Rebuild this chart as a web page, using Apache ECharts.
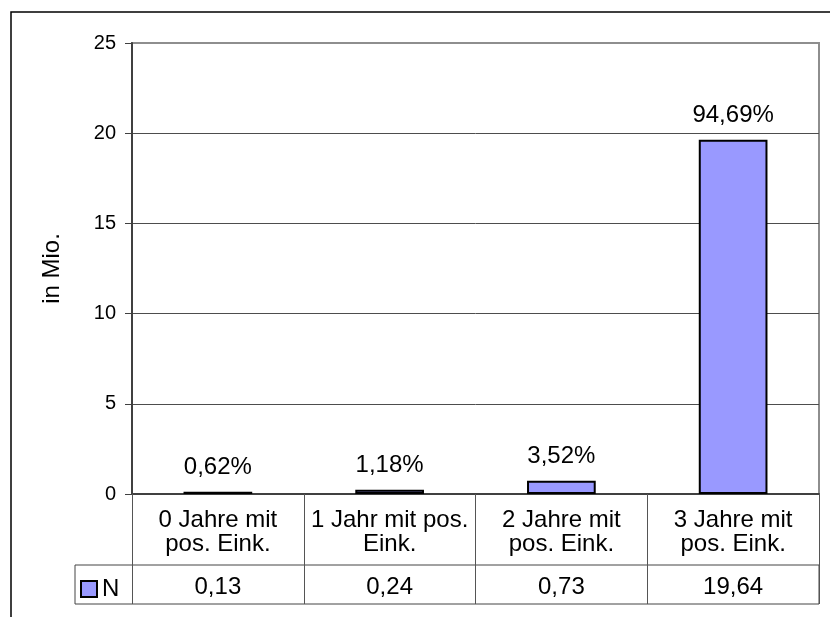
<!DOCTYPE html>
<html>
<head>
<meta charset="utf-8">
<script src="https://cdn.jsdelivr.net/npm/echarts@6/dist/echarts.min.js"></script>
<style>
  html, body { margin: 0; padding: 0; background: #fff; }
  #chart { width: 830px; height: 617px; }
</style>
</head>
<body>
<div id="chart"></div>
<script>
// data
const categories = ['0 Jahre mit\npos. Eink.', '1 Jahr mit pos.\nEink.', '2 Jahre mit\npos. Eink.', '3 Jahre mit\npos. Eink.'];
const values = [0.13, 0.24, 0.73, 19.64];      // N, in Mio.
const shares = [0.62, 1.18, 3.52, 94.69];      // percent labels over the bars
const yTicks = { min: 0, max: 25, interval: 5 };

const de = (v) => v.toFixed(2).replace('.', ',');
const FONT = '"Liberation Sans", Arial, sans-serif';

const chart = echarts.init(document.getElementById('chart'));

chart.setOption({
  backgroundColor: '#fff',
  animation: false,
  textStyle: { fontFamily: FONT, color: '#000' },
  grid: {
    left: 132, right: 11, top: 43, bottom: 123,
    show: true, borderColor: '#8e8e8e', borderWidth: 2, backgroundColor: 'transparent'
  },
  legend: {
    data: ['N'],
    left: 80, top: 577, padding: 0,
    icon: 'rect', itemWidth: 16, itemHeight: 16,
    itemStyle: { color: '#9999ff', borderColor: '#000', borderWidth: 2 },
    textStyle: { fontSize: 24, color: '#000', fontFamily: FONT }
  },
  xAxis: [
    {
      type: 'category',
      data: categories,
      position: 'bottom',
      axisLine: { lineStyle: { color: '#404040', width: 2 } },
      axisTick: { show: true, interval: 0, alignWithLabel: false, length: 110, lineStyle: { color: '#555', width: 1 } },
      axisLabel: { interval: 0, fontSize: 24, lineHeight: 24, margin: 14, color: '#000' },
      splitLine: { show: false }
    },
    {
      type: 'category',
      data: values.map(de),
      position: 'bottom',
      offset: 71,
      axisLine: { show: false },
      axisTick: { show: false },
      axisLabel: { interval: 0, fontSize: 24, lineHeight: 24, margin: 10, color: '#000' }
    }
  ],
  yAxis: {
    type: 'value',
    min: yTicks.min, max: yTicks.max, interval: yTicks.interval,
    name: 'in Mio.',
    nameLocation: 'middle',
    nameRotate: 90,
    nameGap: 68,
    nameTextStyle: { fontSize: 24, color: '#000' },
    axisLine: { show: true, lineStyle: { color: '#404040', width: 2 } },
    axisTick: { show: true, length: 7, lineStyle: { color: '#404040' } },
    axisLabel: { fontSize: 20, margin: 16, color: '#000' },
    splitLine: { show: true, showMaxLine: false, showMinLine: false, lineStyle: { color: '#4d4d4d', width: 1 } }
  },
  series: [{
    name: 'N',
    type: 'bar',
    data: values,
    barWidth: '40%',
    itemStyle: { color: '#9999ff', borderColor: '#000', borderWidth: 2 },
    label: {
      show: true,
      position: 'top',
      distance: 12,
      fontSize: 24,
      lineHeight: 24,
      color: '#000',
      formatter: (p) => de(shares[p.dataIndex]) + '%'
    }
  }],
  graphic: [
    // outer chart frame (cut off at right and bottom)
    { type: 'rect', shape: { x: 11, y: 12, width: 900, height: 700 },
      style: { fill: 'none', stroke: '#000', lineWidth: 1.5 }, silent: true },
    // outline of the data-table row
    { type: 'rect', shape: { x: 75, y: 565, width: 744, height: 39 },
      style: { fill: 'none', stroke: '#444', lineWidth: 1 }, silent: true }
  ]
});
</script>
</body>
</html>
